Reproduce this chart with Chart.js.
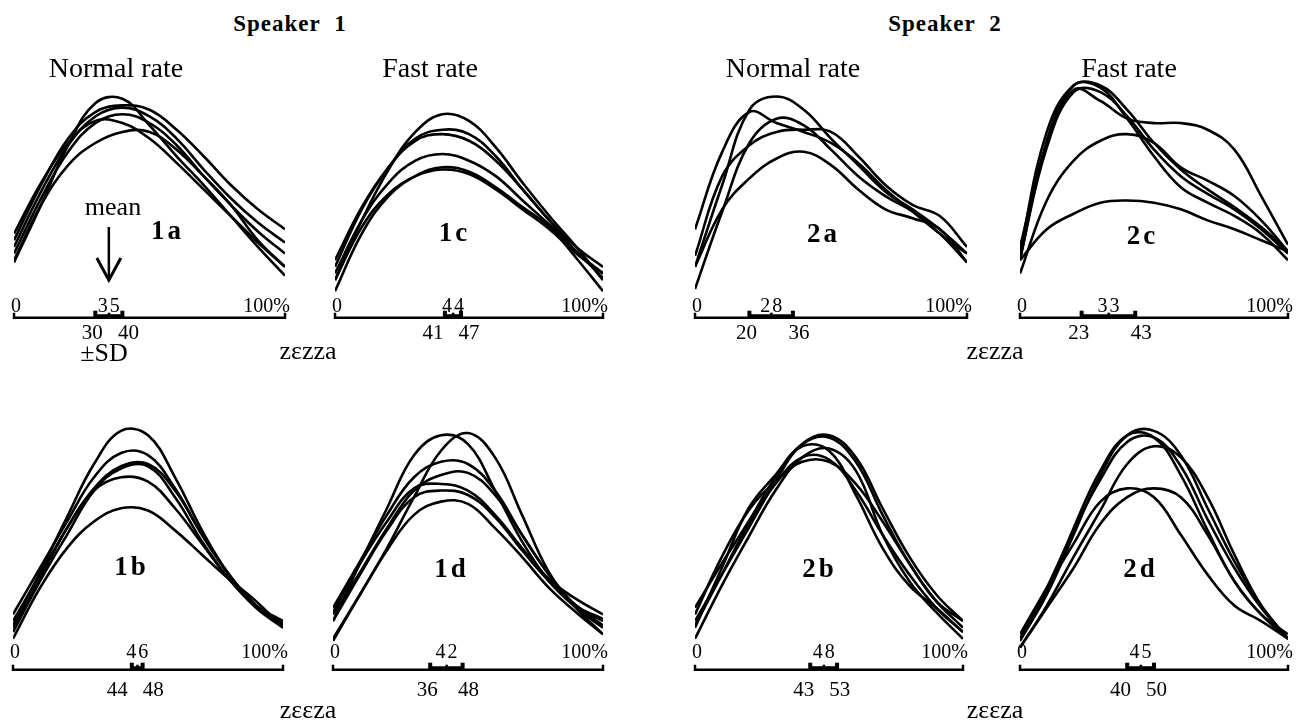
<!DOCTYPE html>
<html>
<head>
<meta charset="utf-8">
<script src="https://cdn.jsdelivr.net/npm/chart.js@4.4.1/dist/chart.umd.min.js"></script>
<style>
  html, body { margin: 0; padding: 0; background: #fff; }
  #page { position: relative; width: 1306px; height: 727px; overflow: hidden;
          font-family: "Liberation Serif", "Times New Roman", serif; color: #000; }
  #page canvas { position: absolute; }
  .lbl { position: absolute; line-height: 1; white-space: nowrap; transform: translate(-50%, -50%); }
  .head { font-weight: bold; font-size: 23px; letter-spacing: 1px; }
  .rate { font-size: 28px; }
  .pid { font-weight: bold; font-size: 27px; letter-spacing: 3px; }
  .word { font-size: 26px; }
</style>
</head>
<body>
<div id="page"></div>
<script>
// normalized time, % of word duration
const timePct = [0, 10, 20, 30, 40, 50, 60, 70, 80, 90, 100];

// relative amplitude per token
const s1NormalZezza = [
  [25, 51, 78, 97, 99, 87, 73, 60, 46, 32, 19],
  [35, 60, 81, 93, 96, 94, 85, 73, 60, 49, 40],
  [32, 57, 78, 91, 95, 91, 81, 67, 54, 43, 34],
  [29, 54, 75, 88, 92, 88, 78, 64, 51, 39, 29],
  [38, 61, 79, 89, 88, 81, 70, 58, 46, 34, 23],
  [26, 51, 69, 79, 84, 84, 76, 64, 51, 35, 23]
];
const s1FastZezza = [
  [17, 44, 67, 84, 92, 89, 77, 61, 46, 32, 17],
  [23, 49, 68, 81, 85, 83, 73, 58, 44, 30, 20],
  [26, 50, 68, 80, 83, 80, 71, 58, 44, 32, 23],
  [20, 44, 61, 71, 74, 71, 64, 53, 42, 30, 18],
  [12, 38, 55, 64, 68, 66, 59, 50, 41, 27, 12],
  [17, 41, 56, 64, 67, 65, 58, 49, 40, 29, 20]
];
const s2NormalZezza = [
  [23, 60, 94, 100, 94, 81, 69, 57, 49, 40, 29],
  [40, 75, 93, 88, 84, 79, 70, 58, 48, 38, 29],
  [13, 48, 79, 90, 87, 76, 64, 55, 48, 38, 25],
  [28, 64, 78, 84, 85, 84, 73, 60, 51, 46, 32],
  [23, 49, 63, 72, 75, 69, 58, 49, 45, 40, 25]
];
const s2FastZezza = [
  [30, 84, 105, 105, 94, 79, 67, 58, 50, 41, 30],
  [32, 79, 103, 98, 90, 88, 88, 85, 76, 55, 33],
  [26, 80, 105, 104, 90, 73, 59, 52, 46, 38, 26],
  [27, 77, 102, 102, 91, 76, 64, 56, 49, 40, 29],
  [20, 53, 71, 80, 83, 79, 68, 62, 55, 44, 30],
  [26, 40, 47, 52, 53, 52, 49, 44, 40, 35, 30]
];
const s1NormalZeeza = [
  [20, 44, 69, 93, 108, 106, 87, 63, 43, 29, 20],
  [25, 46, 67, 87, 98, 97, 82, 61, 43, 29, 21],
  [22, 43, 64, 82, 92, 93, 81, 61, 43, 29, 20],
  [17, 40, 61, 81, 91, 92, 78, 58, 41, 28, 19],
  [19, 41, 64, 81, 87, 85, 73, 57, 41, 29, 22],
  [14, 37, 55, 67, 73, 72, 63, 52, 41, 31, 19]
];
const s1FastZeeza = [
  [22, 48, 73, 97, 106, 102, 81, 58, 40, 28, 19],
  [14, 34, 55, 78, 99, 107, 96, 70, 44, 28, 16],
  [28, 49, 70, 87, 94, 93, 81, 61, 43, 29, 22],
  [25, 44, 64, 81, 88, 89, 79, 61, 43, 29, 23],
  [26, 48, 67, 82, 84, 81, 70, 55, 41, 32, 25],
  [22, 43, 63, 78, 81, 79, 69, 54, 40, 29, 20],
  [13, 34, 54, 70, 76, 75, 64, 51, 37, 26, 16]
];
const s2NormalZeeza = [
  [22, 43, 64, 85, 102, 106, 96, 73, 51, 34, 22],
  [28, 48, 67, 87, 102, 105, 94, 70, 48, 31, 19],
  [19, 46, 73, 88, 101, 99, 79, 55, 38, 28, 17],
  [25, 51, 72, 85, 94, 94, 84, 67, 48, 31, 22],
  [14, 38, 60, 81, 96, 100, 90, 61, 40, 26, 14],
  [20, 43, 66, 84, 96, 95, 81, 61, 43, 28, 17]
];
const s2FastZeeza = [
  [13, 34, 61, 88, 106, 108, 97, 73, 49, 29, 14],
  [14, 35, 64, 90, 106, 105, 88, 63, 40, 25, 14],
  [10, 29, 51, 72, 93, 101, 96, 78, 52, 29, 14],
  [16, 37, 57, 76, 82, 78, 61, 43, 29, 22, 14],
  [10, 28, 46, 66, 78, 82, 78, 61, 40, 25, 16],
  [14, 37, 63, 86, 103, 105, 92, 68, 46, 28, 14]
];

// peak position, mean and +-SD (% of word duration)
const panelIds = ["1a", "1c", "2a", "2c", "1b", "1d", "2b", "2d"];
const peakMean = [35, 44, 28, 33, 46, 42, 48, 45];
const peakSdLow = [30, 41, 20, 23, 44, 36, 43, 40];
const peakSdHigh = [40, 47, 36, 43, 48, 48, 53, 50];
const panelTokens = [s1NormalZezza, s1FastZezza, s2NormalZezza, s2FastZezza,
                     s1NormalZeeza, s1FastZeeza, s2NormalZeeza, s2FastZeeza];

// layout
const page = document.getElementById("page");
const axisLeft = [14, 335, 695, 1020, 13, 333, 695, 1020];
const axisRight = [285, 603, 967, 1288, 283, 603, 963, 1288];
const panelRow = [0, 0, 0, 0, 1, 1, 1, 1];
const rowAxisY = [317.5, 670];
const labelAbove = [13, 19];
const labelBelow = [14, 19];
const pxPerUnit = 2.21;
const yMin = -25, yMax = 112;
const pad = 30;

function textAt(ctx, str, x, yc, align, size) {
  ctx.textAlign = align;
  ctx.textBaseline = "alphabetic";
  ctx.fillText(str, x, yc + size * 0.34);
}

const wordAxis = {
  id: "wordAxis",
  afterDatasetsDraw(chart, args, opts) {
    const { ctx, scales: { x, y } } = chart;
    const y0 = y.getPixelForValue(0);
    const x0 = x.getPixelForValue(0);
    const x1 = x.getPixelForValue(100);
    const xl = x.getPixelForValue(opts.lo);
    const xm = x.getPixelForValue(opts.mean);
    const xh = x.getPixelForValue(opts.hi);
    ctx.save();
    ctx.strokeStyle = "#000";
    ctx.fillStyle = "#000";

    // time axis with end ticks
    ctx.lineWidth = 2.5;
    ctx.beginPath();
    ctx.moveTo(x0, y0 - 5);
    ctx.lineTo(x0, y0);
    ctx.lineTo(x1, y0);
    ctx.lineTo(x1, y0 - 5);
    ctx.stroke();

    // +-SD bracket
    ctx.lineWidth = 3;
    ctx.beginPath();
    ctx.moveTo(xl, y0 - 2);
    ctx.lineTo(xh, y0 - 2);
    ctx.stroke();
    ctx.fillRect(xl - 2, y0 - 7, 4, 7);
    ctx.fillRect(xh - 2, y0 - 7, 4, 7);
    ctx.fillRect(xm - 1, y0 - 5, 2.5, 4);

    // labels above the axis
    const fs = 20;
    ctx.font = fs + 'px "Liberation Serif", serif';
    const ya = y0 - opts.above;
    const yb = y0 + opts.below;
    textAt(ctx, "0", x0 + 2, ya, "center", fs);
    textAt(ctx, "100%", x1 + 5, ya, "right", fs);
    ctx.letterSpacing = "2px";
    textAt(ctx, String(opts.mean), xm + 1, ya, "center", fs);
    ctx.letterSpacing = "0px";

    // SD labels below, pushed apart so they never touch
    let cl = xl - 3, ch = xh + 6;
    const minGap = 36;
    if (ch - cl < minGap) {
      const mid = (xl + xh) / 2;
      cl = mid - minGap / 2 - 2;
      ch = mid + minGap / 2 - 2;
    }
    ctx.font = '21px "Liberation Serif", serif';
    textAt(ctx, String(opts.lo), cl, yb, "center", 21);
    textAt(ctx, String(opts.hi), ch, yb, "center", 21);

    // "mean" arrow
    if (opts.arrow) {
      const top = y.getPixelForValue(41);
      const tip = y.getPixelForValue(17);
      const head = y.getPixelForValue(27);
      ctx.lineWidth = 2.5;
      ctx.beginPath();
      ctx.moveTo(xm, top);
      ctx.lineTo(xm, tip);
      ctx.stroke();
      ctx.lineWidth = 3;
      ctx.beginPath();
      ctx.moveTo(xm - 12, head);
      ctx.lineTo(xm, tip);
      ctx.lineTo(xm + 12, head);
      ctx.stroke();
    }
    ctx.restore();
  }
};

panelIds.forEach((id, i) => {
  const L = axisLeft[i], R = axisRight[i], row = panelRow[i];
  const A = rowAxisY[row];
  const cv = document.createElement("canvas");
  cv.width = R - L + 2 * pad;
  cv.height = Math.round((yMax - yMin) * pxPerUnit);
  cv.style.left = (L - pad) + "px";
  cv.style.top = (A - yMax * pxPerUnit) + "px";
  page.appendChild(cv);

  const datasets = panelTokens[i].map(tok => ({
    data: tok.map((v, j) => ({ x: timePct[j], y: v })),
    borderColor: "#000",
    borderWidth: 2.6,
    pointRadius: 0,
    tension: 0.4,
    fill: false
  }));

  new Chart(cv, {
    type: "line",
    data: { datasets },
    options: {
      responsive: false,
      animation: false,
      devicePixelRatio: 1,
      layout: { padding: { left: pad, right: pad, top: 0, bottom: 0 } },
      plugins: {
        legend: { display: false },
        tooltip: { enabled: false },
        wordAxis: {
          lo: peakSdLow[i], mean: peakMean[i], hi: peakSdHigh[i],
          arrow: id === "1a",
          above: labelAbove[row], below: labelBelow[row]
        }
      },
      scales: {
        x: { type: "linear", min: 0, max: 100, display: false },
        y: { min: yMin, max: yMax, display: false }
      }
    },
    plugins: [wordAxis]
  });
});

// text labels
function addLabel(text, cls, x, y) {
  const d = document.createElement("div");
  d.className = "lbl " + cls;
  d.textContent = text;
  d.style.left = x + "px";
  d.style.top = y + "px";
  page.appendChild(d);
}
addLabel("Speaker\u00a0\u00a01", "head", 290, 23);
addLabel("Speaker\u00a0\u00a02", "head", 945, 23);
addLabel("Normal rate", "rate", 116, 68);
addLabel("Fast rate", "rate", 430, 68);
addLabel("Normal rate", "rate", 793, 68);
addLabel("Fast rate", "rate", 1129, 68);

const pidX = [166, 453, 822, 1141, 130, 450, 818, 1139];
const pidY = [230, 232, 233, 235, 566, 568, 568, 568];
panelIds.forEach((id, i) => addLabel(id, "pid", pidX[i] + 1.5, pidY[i]));

addLabel("mean", "word", 113, 207);
addLabel("\u00b1SD", "word", 104, 353);
addLabel("z\u025Bzza", "word", 308, 351);
addLabel("z\u025Bzza", "word", 995, 351);
addLabel("z\u025B\u025Bza", "word", 308, 710);
addLabel("z\u025B\u025Bza", "word", 995, 710);
</script>
</body>
</html>
